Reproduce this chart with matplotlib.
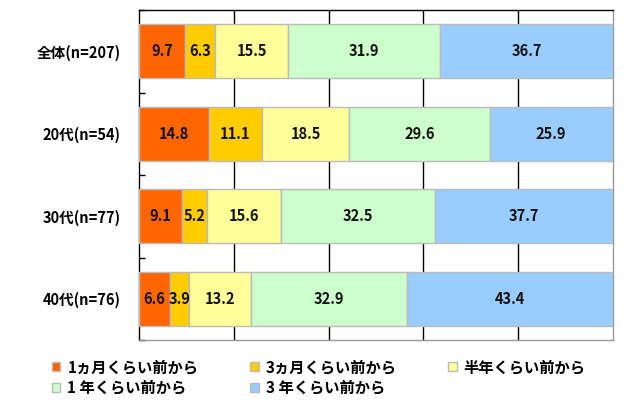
import matplotlib
matplotlib.use("Agg")
import matplotlib.pyplot as plt
from matplotlib.patches import Patch
import numpy as np

plt.rcParams['font.family'] = ['Noto Sans CJK JP', 'DejaVu Sans']

categories = ['全体(n=207)', '20代(n=54)', '30代(n=77)', '40代(n=76)']
series_names = ['1ヵ月くらい前から', '3ヵ月くらい前から', '半年くらい前から',
                '1 年くらい前から', '3 年くらい前から']
values = [
    [9.7, 14.8, 9.1, 6.6],
    [6.3, 11.1, 5.2, 3.9],
    [15.5, 18.5, 15.6, 13.2],
    [31.9, 29.6, 32.5, 32.9],
    [36.7, 25.9, 37.7, 43.4],
]
colors = ['#FF6600', '#FFCC00', '#FFFF99', '#CCFFCC', '#99CCFF']

fig = plt.figure(figsize=(6.4, 4.0), dpi=100)
ax = fig.add_axes([139/640, 1-340/400, (613-139)/640, 330/400])

y = np.arange(len(categories))
left = np.zeros(len(categories))
for name, vals, c in zip(series_names, values, colors):
    vals = np.array(vals)
    ax.barh(y, vals, left=left, height=0.65, color=c,
            edgecolor='#BBBBBB', linewidth=1, zorder=3, label=name)
    for yi, l, v in zip(y, left, vals):
        ax.text(l + v/2, yi, f'{v:.1f}', ha='center', va='center',
                fontsize=10.5, fontweight='bold', color='#111111', zorder=4)
    left = left + vals

ax.set_xlim(0, 100)
ax.set_ylim(len(categories) - 0.5, -0.5)
ax.set_xticks([20, 40, 60, 80])
ax.set_xticklabels([])
ax.tick_params(axis='x', length=0)
ax.grid(axis='x', color='black', linewidth=1, zorder=0)

ax.set_yticks(y)
ax.set_yticklabels(categories, fontsize=10.5, fontweight='bold')
ax.tick_params(axis='y', which='major', length=0, pad=13)
ax.set_yticks(np.arange(-0.5, len(categories), 1.0), minor=True)
ax.tick_params(axis='y', which='minor', direction='in', length=4, width=1, color='black')

ax.spines['left'].set_color('black')
ax.spines['top'].set_color('black')
ax.spines['right'].set_color('#999999')
ax.spines['bottom'].set_color('#999999')
for s in ax.spines.values():
    s.set_linewidth(1)

handles = [Patch(facecolor=c, edgecolor='#BBBBBB', linewidth=1) for c in colors]
order = [0, 3, 1, 4, 2]
fig.legend([handles[i] for i in order], [series_names[i] for i in order],
           ncol=3, loc='upper left', bbox_to_anchor=(52/640, 1-359/400),
           frameon=False, handlelength=0.55, handleheight=0.55,
           handletextpad=0.45, columnspacing=3.4, labelspacing=0.3,
           borderpad=0, borderaxespad=0,
           prop={'size': 11, 'weight': 'bold'})

fig.savefig('out.png', dpi=100)
